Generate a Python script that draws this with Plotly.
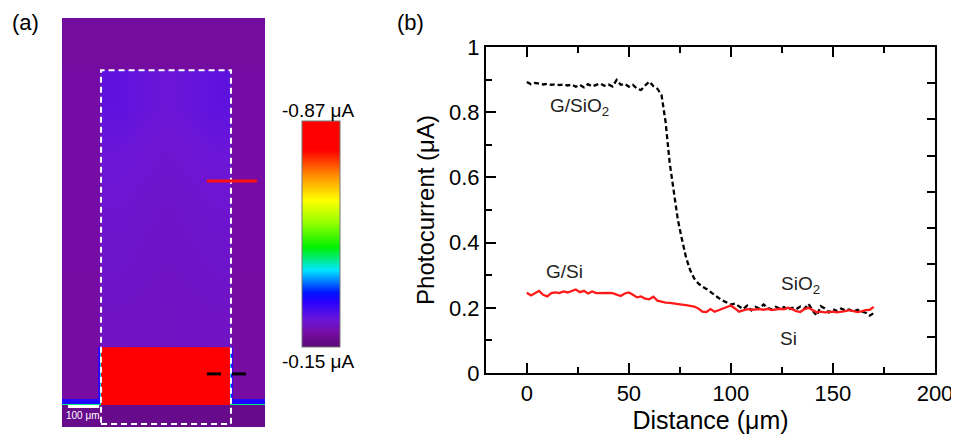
import plotly.graph_objects as go

# ---------------- Panel (b) data ----------------
distance_um = [0, 2, 4, 6, 8, 10, 12, 14, 16, 18, 20, 22, 24, 26, 28, 30, 32, 34, 36, 38,
               40, 42, 44, 46, 48, 50, 52, 54, 56, 58, 60, 62, 64, 66, 68, 70, 72, 74, 76, 78,
               80, 82, 84, 86, 88, 90, 92, 94, 96, 98, 100, 102, 104, 106, 108, 110, 112, 114,
               116, 118, 120, 122, 124, 126, 128, 130, 132, 134, 136, 138, 140, 142, 144, 146,
               148, 150, 152, 154, 156, 158, 160, 162, 164, 166, 168, 170]

g_sio2_uA = [0.893, 0.886, 0.890, 0.888, 0.885, 0.887, 0.884, 0.886, 0.883, 0.885,
             0.882, 0.885, 0.878, 0.884, 0.876, 0.886, 0.879, 0.884, 0.888, 0.881,
             0.885, 0.879, 0.899, 0.884, 0.887, 0.878, 0.884, 0.872, 0.868, 0.882,
             0.894, 0.880, 0.872, 0.853, 0.770, 0.645, 0.550, 0.470, 0.410, 0.355,
             0.316, 0.290, 0.275, 0.265, 0.258, 0.248, 0.238, 0.230, 0.222, 0.215,
             0.210, 0.213, 0.205, 0.196, 0.207, 0.192, 0.203, 0.198, 0.210, 0.200,
             0.195, 0.203, 0.197, 0.202, 0.193, 0.200, 0.196, 0.204, 0.197, 0.212,
             0.192, 0.176, 0.205, 0.198, 0.186, 0.196, 0.190, 0.198, 0.192, 0.195,
             0.188, 0.194, 0.189, 0.185, 0.176, 0.184]

g_si_uA = [0.246, 0.238, 0.245, 0.252, 0.240, 0.235, 0.245, 0.247, 0.245, 0.250,
           0.247, 0.252, 0.256, 0.248, 0.252, 0.244, 0.250, 0.245, 0.246, 0.246,
           0.246, 0.245, 0.240, 0.236, 0.244, 0.247, 0.240, 0.232, 0.235, 0.228,
           0.226, 0.234, 0.222, 0.218, 0.216, 0.215, 0.214, 0.212, 0.210, 0.208,
           0.206, 0.204, 0.198, 0.188, 0.187, 0.196, 0.188, 0.193, 0.199, 0.202,
           0.207, 0.198, 0.188, 0.192, 0.196, 0.194, 0.195, 0.196, 0.194, 0.197,
           0.193, 0.195, 0.197, 0.195, 0.200, 0.196, 0.190, 0.187, 0.196, 0.200,
           0.194, 0.186, 0.188, 0.186, 0.187, 0.188, 0.186, 0.187, 0.190, 0.193,
           0.190, 0.187, 0.189, 0.193, 0.194, 0.203]

# ---------------- Panel (a) map data (photocurrent magnitude, uA) ----------------
map_x_edges = [0, 115, 122, 125, 250, 420, 538, 541, 548, 650]
map_y_edges = [0, 70, 73, 90, 256, 500, 900, 1142, 1309]
map_z = [
    [0.172, 0.172, 0.172, 0.172, 0.172, 0.172, 0.172, 0.172, 0.172],
    [0.430, 0.430, 0.430, 0.870, 0.870, 0.870, 0.430, 0.430, 0.430],
    [0.300, 0.300, 0.390, 0.870, 0.870, 0.870, 0.390, 0.300, 0.300],
    [0.193, 0.285, 0.390, 0.870, 0.870, 0.870, 0.390, 0.285, 0.193],
    [0.193, 0.198, 0.206, 0.222, 0.220, 0.222, 0.206, 0.198, 0.193],
    [0.194, 0.199, 0.208, 0.228, 0.226, 0.228, 0.208, 0.199, 0.194],
    [0.194, 0.200, 0.210, 0.240, 0.234, 0.240, 0.210, 0.200, 0.194],
    [0.191, 0.191, 0.191, 0.191, 0.191, 0.191, 0.191, 0.191, 0.191],
]
# softly varying interior of the graphene region (smoothed)
inner_x_edges = [125, 250, 420, 541]
inner_y_edges = [256, 500, 900, 1142]
inner_z = [
    [0.222, 0.219, 0.222],
    [0.230, 0.225, 0.230],
    [0.247, 0.236, 0.247],
]
cbar_min, cbar_max = 0.15, 0.87
cbar_labels = ["-0.87 μA", "-0.15 μA"]

# page is rendered with the browser's default 8px body margin
OFF = 8
W, H = 959 - OFF, 444 - OFF
FONT = "Arial, Liberation Sans, sans-serif"


def px(x):
    return (x - OFF) / W


def py(y):
    return 1 - (y - OFF) / H


colorscale = [
    [0.00, "rgb(88,8,118)"],
    [0.06, "rgb(118,12,162)"],
    [0.12, "rgb(108,22,215)"],
    [0.20, "rgb(40,0,255)"],
    [0.24, "rgb(0,20,255)"],
    [0.34, "rgb(0,230,255)"],
    [0.44, "rgb(0,240,0)"],
    [0.55, "rgb(150,255,0)"],
    [0.65, "rgb(255,255,0)"],
    [0.76, "rgb(255,140,0)"],
    [0.87, "rgb(255,0,0)"],
    [1.00, "rgb(255,0,0)"],
]

fig = go.Figure()

fig.add_trace(go.Heatmap(
    x=map_x_edges, y=map_y_edges, z=map_z, xaxis="x2", yaxis="y2",
    colorscale=colorscale, zmin=cbar_min, zmax=cbar_max, zsmooth=False,
    colorbar=dict(x=px(302), xanchor="left", y=py(234), yanchor="middle",
                  len=226 / H, lenmode="fraction", thickness=38, thicknessmode="pixels",
                  xpad=0, ypad=0, outlinewidth=1, outlinecolor="#777",
                  showticklabels=False, ticks=""),
    hoverinfo="skip",
))
fig.add_trace(go.Heatmap(
    x=inner_x_edges, y=inner_y_edges, z=inner_z, xaxis="x2", yaxis="y2",
    colorscale=colorscale, zmin=cbar_min, zmax=cbar_max, zsmooth="best",
    showscale=False, hoverinfo="skip",
))

fig.add_trace(go.Scatter(x=distance_um, y=g_sio2_uA, mode="lines",
                         line=dict(color="black", width=2.3, dash="5px,3px"),
                         showlegend=False))
fig.add_trace(go.Scatter(x=distance_um, y=g_si_uA, mode="lines",
                         line=dict(color="#ff1a1a", width=2.3),
                         showlegend=False))
# empty trace to carry the right-hand tick axis
fig.add_trace(go.Scatter(x=[None], y=[None], yaxis="y3", showlegend=False))

axis_font = dict(family=FONT, size=22, color="black")

fig.update_layout(
    width=W, height=H, margin=dict(l=0, r=0, t=0, b=0, autoexpand=False),
    paper_bgcolor="white", plot_bgcolor="white",
    font=dict(family=FONT, color="black"),
    xaxis=dict(domain=[px(486), px(935)], range=[-20, 200], dtick=50, tick0=0,
               ticks="inside", ticklen=10, tickwidth=2, tickcolor="black",
               minor=dict(dtick=25, ticks="inside", ticklen=6, tickwidth=2, tickcolor="black"),
               showline=True, linewidth=2, linecolor="black", mirror="ticks",
               showgrid=False, zeroline=False, tickfont=axis_font, automargin=False,
               title=dict(text="Distance (μm)", font=dict(family=FONT, size=25), standoff=4)),
    yaxis=dict(domain=[py(373), py(47)], range=[0, 1], dtick=0.2, tick0=0,
               ticks="inside", ticklen=10, tickwidth=2, tickcolor="black",
               minor=dict(dtick=0.1, ticks="inside", ticklen=6, tickwidth=2, tickcolor="black"),
               showline=True, linewidth=2, linecolor="black",
               showgrid=False, zeroline=False, tickfont=axis_font, automargin=False,
               title=dict(text="Photocurrent (μA)", font=dict(family=FONT, size=24), standoff=8)),
    yaxis3=dict(overlaying="y", side="right", range=[0, 9], dtick=1,
                ticks="inside", ticklen=8, tickwidth=2, tickcolor="black",
                showticklabels=False, showline=True, linewidth=2, linecolor="black",
                showgrid=False, zeroline=False, automargin=False),
    xaxis2=dict(domain=[px(62), px(265)], range=[0, 650], visible=False, anchor="y2",
                automargin=False),
    yaxis2=dict(domain=[py(427), py(18)], range=[0, 1309], visible=False, anchor="x2",
                automargin=False),
)

# shapes on the map
shapes = [
    dict(type="rect", xref="x2", yref="y2", x0=125, x1=541, y0=10, y1=1142,
         line=dict(color="white", width=2, dash="6px,4px")),
    dict(type="line", xref="x2", yref="y2", x0=464, x1=624, y0=787, y1=787,
         line=dict(color="#ff1010", width=3)),
    dict(type="line", xref="x2", yref="y2", x0=464, x1=509, y0=170, y1=170,
         line=dict(color="black", width=3)),
    dict(type="line", xref="x2", yref="y2", x0=544, x1=589, y0=170, y1=170,
         line=dict(color="black", width=3)),
    dict(type="line", xref="x2", yref="y2", x0=19, x1=119, y0=66, y1=66,
         line=dict(color="white", width=3)),
]
fig.update_layout(shapes=shapes)


def pann(text, x, y, size):
    return dict(text=text, x=px(x), y=py(y), xref="paper", yref="paper",
                xanchor="center", yanchor="middle", showarrow=False,
                font=dict(size=size, family=FONT, color="black"))


ann = [
    pann("(a)", 25, 22, 22),
    pann("(b)", 410, 22, 22),
    pann(cbar_labels[0], 318, 110, 19),
    pann(cbar_labels[1], 318, 361, 19),
]
ann.append(dict(text="100 μm", x=67, y=36, xref="x2", yref="y2", showarrow=False,
                xanchor="center", yanchor="middle",
                font=dict(size=10, family=FONT, color="white")))
lab_font = dict(size=19, family=FONT, color="#222")
for txt, xv, yv in [("G/SiO<sub>2</sub>", 26, 0.816), ("G/Si", 18.6, 0.31),
                    ("SiO<sub>2</sub>", 134, 0.27), ("Si", 128, 0.107)]:
    ann.append(dict(text=txt, x=xv, y=yv, xref="x", yref="y", showarrow=False,
                    xanchor="center", yanchor="middle", font=lab_font))
fig.update_layout(annotations=ann)

fig.write_html("out.html")
